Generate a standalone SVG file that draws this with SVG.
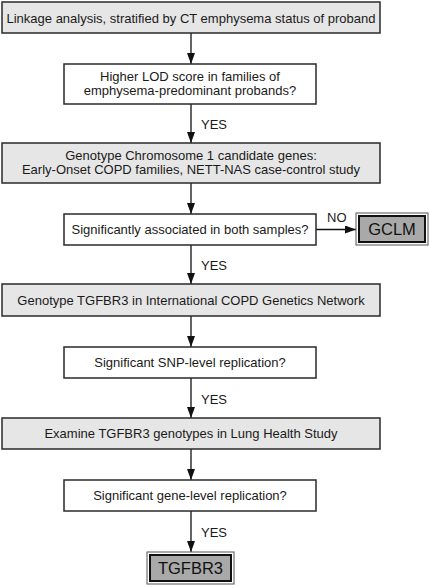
<svg xmlns="http://www.w3.org/2000/svg" width="430" height="588" viewBox="0 0 430 588">
<defs>
<style>
.proc{fill:#e6e6e6;stroke:#2a2a2a;stroke-width:1.5}
.dec{fill:#ffffff;stroke:#2a2a2a;stroke-width:1.5}
.t{font-family:"Liberation Sans",Arial,sans-serif;font-size:13px;fill:#1a1a1a;text-anchor:middle}
.lbl{font-family:"Liberation Sans",Arial,sans-serif;font-size:13px;fill:#1a1a1a}
.big{font-family:"Liberation Sans",Arial,sans-serif;font-size:16.5px;fill:#111;text-anchor:middle}
.outer{fill:#ffffff;stroke:#555;stroke-width:1}
.inner{fill:#a9a9a9;stroke:#111;stroke-width:2}
.conn{stroke:#111;stroke-width:1.3;fill:none;marker-end:url(#ah)}
</style>
<marker id="ah" markerWidth="11" markerHeight="8" refX="11" refY="4" orient="auto" markerUnits="userSpaceOnUse">
<path d="M0,0 L11,4 L0,8 Z" fill="#111"/>
</marker>
</defs>
<rect width="430" height="588" fill="#ffffff"/>

<g id="connectors">
<line class="conn" x1="191" y1="33" x2="191" y2="64"/>
<line class="conn" x1="191" y1="104" x2="191" y2="143"/>
<line class="conn" x1="191" y1="183" x2="191" y2="214"/>
<line class="conn" x1="316" y1="229.5" x2="356" y2="229.5"/>
<line class="conn" x1="191" y1="245" x2="191" y2="284"/>
<line class="conn" x1="191" y1="316" x2="191" y2="347"/>
<line class="conn" x1="191" y1="378" x2="191" y2="418"/>
<line class="conn" x1="191" y1="449" x2="191" y2="480"/>
<line class="conn" x1="191" y1="511" x2="191" y2="552"/>
<text class="lbl" x="201" y="129">YES</text>
<text class="lbl" x="327" y="222">NO</text>
<text class="lbl" x="201" y="270">YES</text>
<text class="lbl" x="201" y="404">YES</text>
<text class="lbl" x="201" y="537">YES</text>
</g>

<g id="n1">
<rect class="proc" x="2" y="2" width="378" height="31"/>
<text class="t" x="191" y="22.5">Linkage analysis, stratified by CT emphysema status of proband</text>
</g>
<g id="n2">
<rect class="dec" x="64" y="64" width="252" height="40"/>
<text class="t" x="190" y="80.5">Higher LOD score in families of</text>
<text class="t" x="190" y="94.5">emphysema-predominant probands?</text>
</g>
<g id="n3">
<rect class="proc" x="2" y="143" width="378" height="40"/>
<text class="t" x="191" y="159.5">Genotype Chromosome 1 candidate genes:</text>
<text class="t" x="191" y="173.5">Early-Onset COPD families, NETT-NAS case-control study</text>
</g>
<g id="n4">
<rect class="dec" x="64" y="214" width="252" height="31"/>
<text class="t" x="190" y="234">Significantly associated in both samples?</text>
</g>
<g id="n5">
<rect class="outer" x="356" y="213" width="72" height="32"/>
<rect class="inner" x="359" y="216" width="66" height="26"/>
<text class="big" x="392" y="235">GCLM</text>
</g>
<g id="n6">
<rect class="proc" x="2" y="284" width="378" height="32"/>
<text class="t" x="191" y="305">Genotype TGFBR3 in International COPD Genetics Network</text>
</g>
<g id="n7">
<rect class="dec" x="64" y="347" width="252" height="31"/>
<text class="t" x="190" y="367">Significant SNP-level replication?</text>
</g>
<g id="n8">
<rect class="proc" x="2" y="418" width="378" height="31"/>
<text class="t" x="191" y="438">Examine TGFBR3 genotypes in Lung Health Study</text>
</g>
<g id="n9">
<rect class="dec" x="64" y="480" width="252" height="31"/>
<text class="t" x="190" y="500">Significant gene-level replication?</text>
</g>
<g id="n10">
<rect class="outer" x="147" y="552" width="87" height="32"/>
<rect class="inner" x="150" y="555" width="81" height="26"/>
<text class="big" x="190.5" y="574">TGFBR3</text>
</g>
</svg>
